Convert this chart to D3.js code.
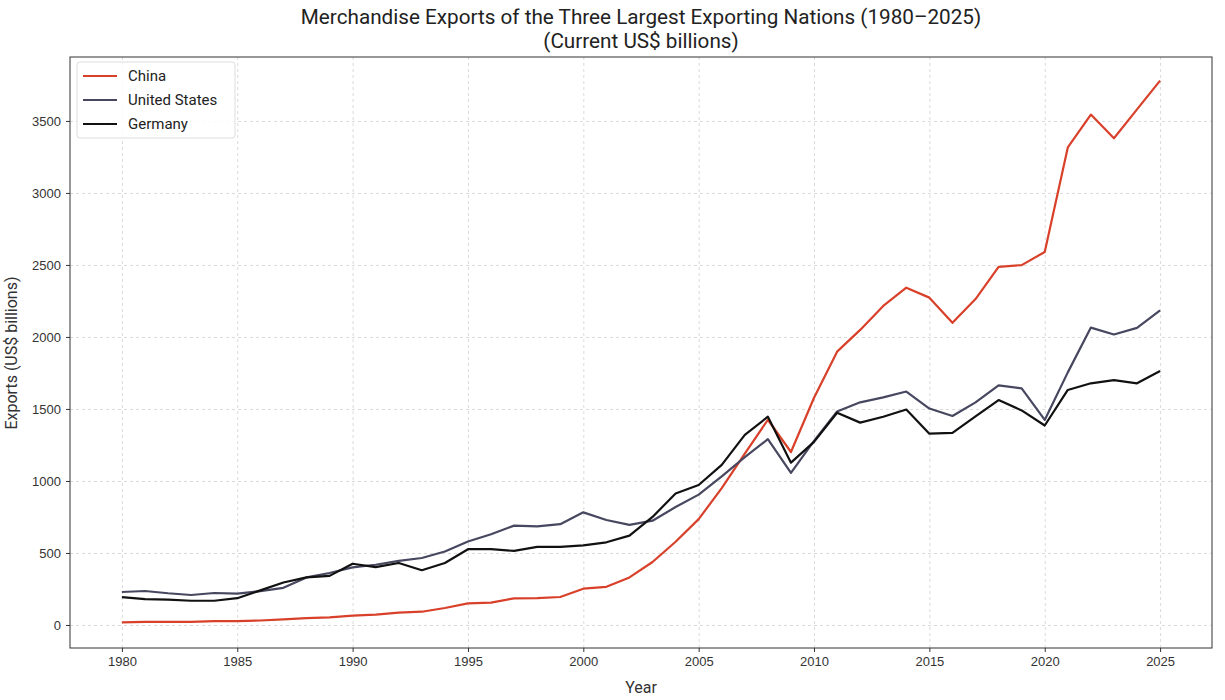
<!DOCTYPE html>
<html>
<head>
<meta charset="utf-8">
<script src="https://cdn.jsdelivr.net/npm/d3@7.9.0/dist/d3.min.js"></script>
<style>
  body { margin: 0; background: #fff; }
  svg { display: block; font-family: "Liberation Sans Narrow", "Roboto", "Noto Sans", sans-serif; }
  .grid line { stroke: #d0d0d0; stroke-dasharray: 3,3; stroke-width: 0.8; }
  .grid path { display: none; }
  .axis text { font-size: 13px; fill: #333; }
  .axis path, .axis line { stroke: #333; }
</style>
</head>
<body>
<svg id="chart" width="1225" height="700"></svg>
<script>
// years 1980..2025
const years = d3.range(1980, 2026);

const china = [18, 22, 22, 22, 26, 27, 31, 39, 48, 52,
  65, 72, 85, 92, 118, 150, 155, 185, 186, 194,
  252, 265, 330, 437, 578, 735, 950, 1190, 1425, 1201,
  1578, 1898, 2049, 2215, 2342, 2273, 2098, 2263, 2487, 2499,
  2590, 3316, 3544, 3380, 3580, 3780];

const usa = [229, 236, 220, 208, 222, 218, 235, 258, 330, 361,
  400, 418, 445, 465, 510, 580, 630, 690, 684, 700,
  782, 729, 695, 724, 819, 905, 1032, 1165, 1290, 1056,
  1278, 1482, 1546, 1580, 1621, 1503, 1451, 1546, 1664, 1643,
  1424, 1754, 2065, 2017, 2063, 2185];

const germany = [193, 180, 176, 168, 168, 186, 240, 295, 330, 341,
  425, 402, 430, 380, 430, 526, 526, 514, 542, 542,
  553, 574, 620, 750, 913, 972, 1112, 1320, 1446, 1127,
  1271, 1474, 1405, 1446, 1496, 1328, 1334, 1448, 1562, 1490,
  1385, 1632, 1678, 1700, 1678, 1763];

const seriesNames = ["China", "United States", "Germany"];
const seriesColors = ["#d9402a", "#474760", "#111111"];
const yTicks = [0, 500, 1000, 1500, 2000, 2500, 3000, 3500];
const xTicks = [1980, 1985, 1990, 1995, 2000, 2005, 2010, 2015, 2020, 2025];

const series = [china, usa, germany];

const svg = d3.select("#chart");
const m = { left: 70, right: 1212, top: 57, bottom: 648 };

const x = d3.scaleLinear().domain([1977.75, 2027.25]).range([m.left, m.right]);
const y = d3.scaleLinear().domain([-160, 3944]).range([m.bottom, m.top]);

// grid
svg.append("g").attr("class", "grid")
  .attr("transform", `translate(0,${m.bottom})`)
  .call(d3.axisBottom(x).tickValues(xTicks).tickSize(-(m.bottom - m.top)).tickFormat(""));
svg.append("g").attr("class", "grid")
  .attr("transform", `translate(${m.left},0)`)
  .call(d3.axisLeft(y).tickValues(yTicks).tickSize(-(m.right - m.left)).tickFormat(""));

// lines
const line = d3.line().x((d, i) => x(years[i])).y(d => y(d));
series.forEach((s, i) => {
  svg.append("path").datum(s)
    .attr("fill", "none")
    .attr("stroke", seriesColors[i])
    .attr("stroke-width", 2.2)
    .attr("stroke-linejoin", "round")
    .attr("d", line);
});

// frame
svg.append("rect")
  .attr("x", m.left).attr("y", m.top)
  .attr("width", m.right - m.left).attr("height", m.bottom - m.top)
  .attr("fill", "none").attr("stroke", "#333").attr("stroke-width", 1);

// axes
const xAxis = svg.append("g").attr("class", "axis")
  .attr("transform", `translate(0,${m.bottom})`)
  .call(d3.axisBottom(x).tickValues(xTicks).tickFormat(d3.format("d")).tickSize(4).tickPadding(5));
xAxis.select(".domain").remove();

const yAxis = svg.append("g").attr("class", "axis")
  .attr("transform", `translate(${m.left},0)`)
  .call(d3.axisLeft(y).tickValues(yTicks).tickFormat(d3.format("d")).tickSize(4).tickPadding(5));
yAxis.select(".domain").remove();

// labels
svg.append("text").attr("x", 641).attr("y", 693)
  .attr("text-anchor", "middle").attr("font-size", 16).attr("fill", "#333").text("Year");
svg.append("text").attr("transform", "translate(17,353) rotate(-90)")
  .attr("text-anchor", "middle").attr("font-size", 16).attr("fill", "#333")
  .text("Exports (US$ billions)");

// title
svg.append("text").attr("x", 641).attr("y", 24)
  .attr("text-anchor", "middle").attr("font-size", 20.7).attr("fill", "#222")
  .text("Merchandise Exports of the Three Largest Exporting Nations (1980–2025)");
svg.append("text").attr("x", 641).attr("y", 48)
  .attr("text-anchor", "middle").attr("font-size", 20.7).attr("fill", "#222")
  .text("(Current US$ billions)");

// legend
const lg = svg.append("g").attr("transform", "translate(77,62)");
lg.append("rect").attr("width", 158).attr("height", 76).attr("rx", 3)
  .attr("fill", "#fff").attr("fill-opacity", 0.85).attr("stroke", "#ddd");
seriesNames.forEach((name, i) => {
  const yy = 14 + i * 24;
  lg.append("line").attr("x1", 6).attr("x2", 40).attr("y1", yy).attr("y2", yy)
    .attr("stroke", seriesColors[i]).attr("stroke-width", 2.2);
  lg.append("text").attr("x", 51).attr("y", yy + 5)
    .attr("font-size", 15).attr("fill", "#222").text(name);
});
</script>
</body>
</html>
